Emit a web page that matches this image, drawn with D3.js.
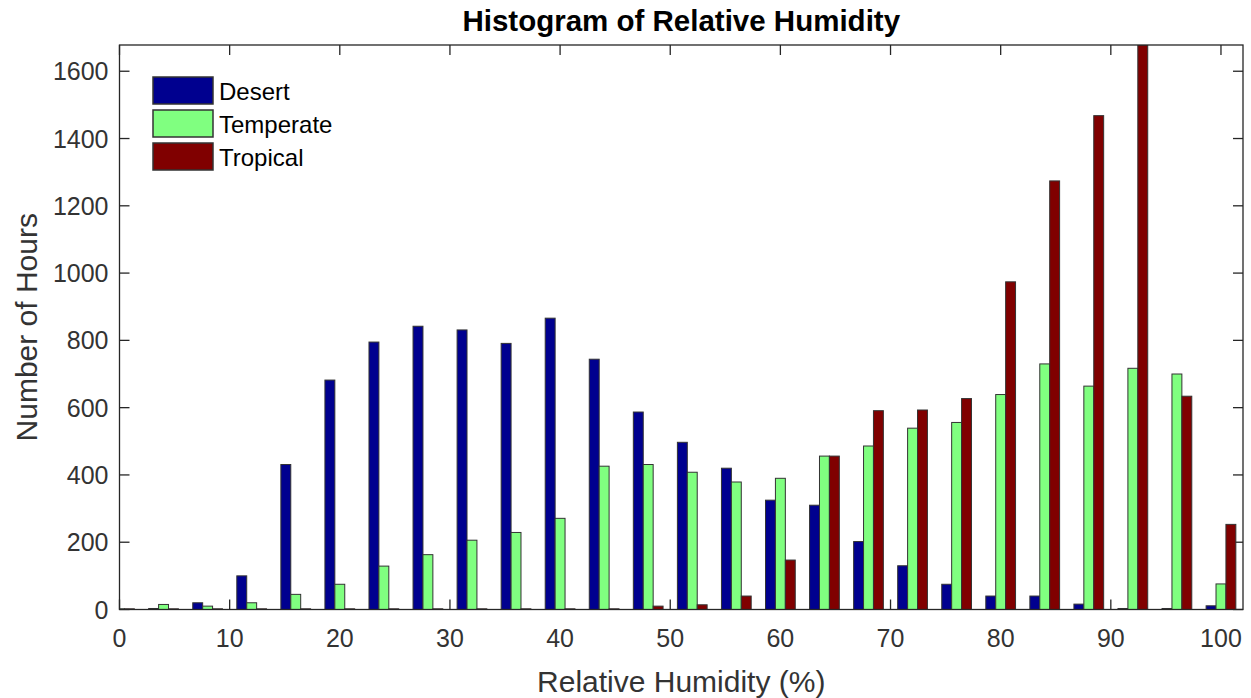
<!DOCTYPE html>
<html>
<head>
<meta charset="utf-8">
<script src="https://cdn.jsdelivr.net/npm/d3@7"></script>
<style>
  html, body { margin: 0; padding: 0; background: #fff; }
  svg { display: block; font-family: "Liberation Sans", Arial, Helvetica, sans-serif; }
</style>
</head>
<body>
<svg id="chart" width="1251" height="698"></svg>
<script>
// Bin centres (relative humidity, %)
const bins = [0, 4, 8, 12, 16, 20, 24, 28, 32, 36, 40, 44, 48, 52, 56, 60, 64, 68, 72, 76, 80, 84, 88, 92, 96, 100];

// Hours per bin for each climate
const desert    = [2, 3, 20, 100, 431, 682, 795, 842, 831, 791, 866, 744, 587, 497, 420, 325, 310, 202, 130, 75, 40, 40, 16, 3, 3, 11];
const temperate = [2, 15, 10, 20, 45, 75, 129, 163, 206, 229, 271, 426, 431, 408, 379, 390, 456, 486, 539, 556, 639, 730, 664, 717, 700, 76];
const tropical  = [2, 2, 2, 2, 2, 2, 2, 2, 2, 2, 2, 2, 10, 14, 40, 147, 456, 591, 593, 627, 974, 1274, 1468, 1678, 634, 253];

const seriesNames = ["Desert", "Temperate", "Tropical"];
const seriesColors = ["#00008f", "#80ff80", "#800000"];
const xTicks = [0, 10, 20, 30, 40, 50, 60, 70, 80, 90, 100];
const yTicks = [0, 200, 400, 600, 800, 1000, 1200, 1400, 1600];

const title = "Histogram of Relative Humidity";
const xLabel = "Relative Humidity (%)";
const yLabel = "Number of Hours";

const series = [desert, temperate, tropical];

const svg = d3.select("#chart");
const margin = { left: 119.5, right: 8, top: 45, bottom: 88.5 };
const W = 1251, H = 698;
const iw = W - margin.left - margin.right;
const ih = H - margin.top - margin.bottom;

const x = d3.scaleLinear().domain([0, 102]).range([0, iw]);
const yMax = d3.max(series, s => d3.max(s));
const y = d3.scaleLinear().domain([0, yMax]).range([ih, 0]);

// Offsets of the three bars inside a group, in data units
const sub = d3.scaleBand().domain(seriesNames).range([-1.35, 1.35]).padding(0);

const axisColor = "#262626";
const tickLen = 10;

const g = svg.append("g").attr("transform", `translate(${margin.left},${margin.top})`);

svg.append("defs").append("clipPath").attr("id", "plotClip")
  .append("rect").attr("x", 0).attr("y", 0).attr("width", iw).attr("height", ih);

// Inward ticks on all four sides
const ticks = g.append("g").attr("stroke", axisColor).attr("stroke-width", 1.3);
xTicks.forEach(t => {
  ticks.append("line").attr("x1", x(t)).attr("x2", x(t)).attr("y1", ih).attr("y2", ih - tickLen);
  ticks.append("line").attr("x1", x(t)).attr("x2", x(t)).attr("y1", 0).attr("y2", tickLen);
});
yTicks.forEach(t => {
  ticks.append("line").attr("x1", 0).attr("x2", tickLen).attr("y1", y(t)).attr("y2", y(t));
  ticks.append("line").attr("x1", iw).attr("x2", iw - tickLen).attr("y1", y(t)).attr("y2", y(t));
});

// Grouped bars
const bars = g.append("g").attr("clip-path", "url(#plotClip)");
seriesNames.forEach((name, si) => {
  bars.append("g")
    .selectAll("rect")
    .data(bins.map((b, i) => ({ b, v: series[si][i] })))
    .join("rect")
    .attr("x", d => x(d.b + sub(name)))
    .attr("width", d => x(d.b + sub(name) + sub.bandwidth()) - x(d.b + sub(name)))
    .attr("y", d => y(d.v))
    .attr("height", d => ih - y(d.v))
    .attr("fill", seriesColors[si])
    .attr("stroke", "#333")
    .attr("stroke-width", 1);
});

// Axis box
g.append("rect").attr("x", 0).attr("y", 0).attr("width", iw).attr("height", ih)
  .attr("fill", "none").attr("stroke", axisColor).attr("stroke-width", 1.3);

// Tick labels
const tickFont = 25;
g.append("g").selectAll("text").data(xTicks).join("text")
  .attr("x", d => x(d)).attr("y", ih + 28)
  .attr("text-anchor", "middle").attr("dominant-baseline", "central")
  .attr("font-size", tickFont).attr("fill", "#333")
  .text(d => d);

g.append("g").selectAll("text").data(yTicks).join("text")
  .attr("x", -11).attr("y", d => y(d))
  .attr("text-anchor", "end").attr("dominant-baseline", "central")
  .attr("font-size", tickFont).attr("fill", "#333")
  .text(d => d);

// Axis labels and title
svg.append("text")
  .attr("x", margin.left + iw / 2).attr("y", 681)
  .attr("text-anchor", "middle").attr("dominant-baseline", "central")
  .attr("font-size", 30).attr("fill", "#333")
  .text(xLabel);

svg.append("text")
  .attr("transform", `translate(26,${margin.top + ih / 2}) rotate(-90)`)
  .attr("text-anchor", "middle").attr("dominant-baseline", "central")
  .attr("font-size", 30).attr("fill", "#333")
  .text(yLabel);

svg.append("text")
  .attr("x", margin.left + iw / 2).attr("y", 20)
  .attr("text-anchor", "middle").attr("dominant-baseline", "central")
  .attr("font-size", 29.5).attr("font-weight", "bold").attr("fill", "#000")
  .text(title);

// Legend
const legend = svg.append("g").attr("transform", "translate(153,77)");
seriesNames.forEach((name, i) => {
  const row = legend.append("g").attr("transform", `translate(0,${i * 33})`);
  row.append("rect").attr("width", 60).attr("height", 27)
    .attr("fill", seriesColors[i]).attr("stroke", "#333").attr("stroke-width", 1.5);
  row.append("text").attr("x", 66).attr("y", 14)
    .attr("dominant-baseline", "central").attr("font-size", 24).attr("fill", "#000")
    .text(name);
});
</script>
</body>
</html>
